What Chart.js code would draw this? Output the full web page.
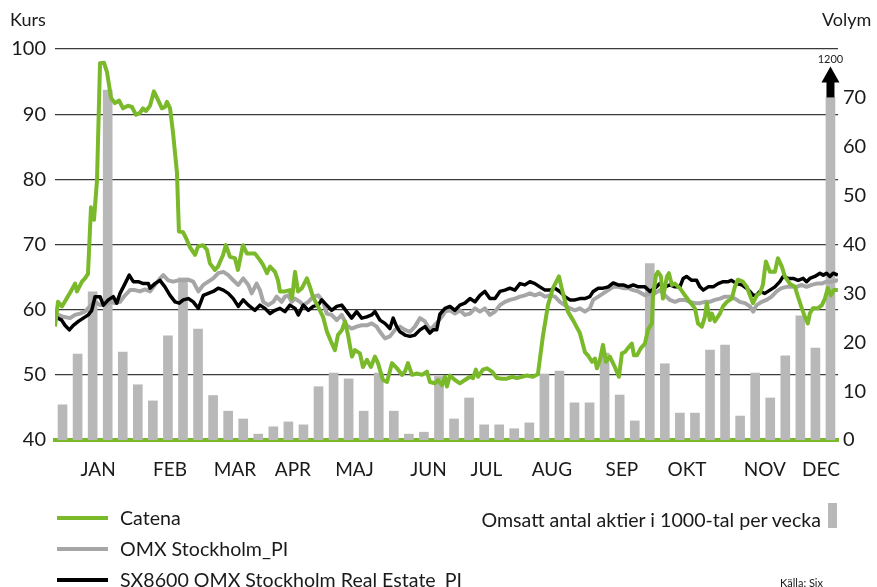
<!DOCTYPE html>
<html><head><meta charset="utf-8">
<script src="https://cdn.jsdelivr.net/npm/chart.js@4.4.1/dist/chart.umd.min.js"></script>
<style>
html,body{margin:0;padding:0;background:#fff;overflow:hidden;}
#wrap{position:relative;width:877px;height:587px;font-family:Lato,"Open Sans",sans-serif;color:#1a1a1a;}
canvas{position:absolute;left:0;top:0;}
.t{position:absolute;white-space:nowrap;font-size:19.6px;line-height:22px;}
.ln{position:absolute;height:4px;width:51px;left:57px;}
</style></head>
<body><div id="wrap">
<canvas id="c" width="877" height="587"></canvas>
<div class="t" style="left:10px;top:8px;font-size:18px;">Kurs</div>
<div class="t" style="left:822px;top:8px;font-size:18px;">Volym</div>
<div class="ln" style="top:516px;background:#7ab929;"></div>
<div class="t" style="left:120px;top:507px;">Catena</div>
<div class="ln" style="top:547px;background:#a6a6a6;"></div>
<div class="t" style="left:120px;top:538px;">OMX Stockholm_PI</div>
<div class="ln" style="top:578px;background:#000;"></div>
<div class="t" style="left:120px;top:569px;">SX8600 OMX Stockholm Real Estate_PI</div>
<div class="t" style="right:56px;top:509px;">Omsatt antal aktier i 1000-tal per vecka</div>
<div style="position:absolute;left:828px;top:503px;width:9px;height:25px;background:#b8b8b8;"></div>
<div class="t" style="left:780px;top:576px;font-size:11px;line-height:13px;">Källa: Six</div>
</div>
<script>
// x-values are in weeks (0 = start of year, 52 = end)
const monthLabels = ['JAN','FEB','MAR','APR','MAJ','JUN','JUL','AUG','SEP','OKT','NOV','DEC'];
const monthPos = [2.86,7.64,11.95,15.80,19.89,24.80,28.65,33.00,37.65,41.97,47.14,50.87];

// Weekly traded volume, thousands of shares (last week: 1200, off the scale)
const volym = [7.2,17.6,30.3,71.6,18.0,11.3,8.0,21.3,33.2,22.7,9.1,5.9,4.3,1.2,2.7,3.7,3.1,10.9,13.7,12.5,
  5.9,13.7,5.9,1.2,1.6,13.0,4.3,8.6,3.1,3.1,2.3,3.5,13.5,14.1,7.6,7.6,17.8,9.2,3.9,36.1,15.6,5.5,5.5,18.4,
  19.4,4.9,13.7,8.6,17.2,25.4,18.8,1200];
const volymAxisMax = 80;
const volymCap = 70.1;   // drawn height of off-scale bars

const catena = [[0,57.4],[0.20,61.2],[0.46,60.5],[1.00,62.6],[1.33,64.0],[1.46,62.8],[1.79,64.3],[1.99,64.8],
 [2.19,65.5],[2.39,75.7],[2.59,73.8],[2.79,79.9],[2.99,97.8],[3.25,97.9],[3.45,96.5],[3.72,92.5],[3.98,91.7],
 [4.25,92.1],[4.52,90.9],[4.85,91.3],[5.11,91.1],[5.38,89.9],[5.64,90.2],[5.84,90.9],[6.04,90.5],[6.31,91.3],
 [6.57,93.5],[6.84,92.2],[7.10,90.9],[7.30,91.1],[7.44,91.9],[7.64,90.9],[7.84,87.1],[8.10,81.0],[8.23,72.0],
 [8.50,71.9],[8.70,71.0],[8.96,69.6],[9.30,68.4],[9.50,69.7],[9.83,69.9],[10.09,69.2],[10.29,67.1],[10.62,66.1],
 [10.82,66.6],[11.16,68.4],[11.35,69.9],[11.62,68.1],[11.95,67.9],[12.15,66.1],[12.48,69.9],[12.75,68.6],
 [13.28,68.6],[13.61,67.6],[13.81,66.9],[14.08,65.6],[14.28,66.6],[14.61,65.8],[14.81,64.5],[14.94,62.8],
 [15.27,62.8],[15.60,63.0],[15.74,61.7],[15.94,65.8],[16.14,62.8],[16.40,63.3],[16.73,64.8],[16.93,63.5],
 [17.13,62.0],[17.46,60.5],[17.80,58.9],[18.06,56.6],[18.33,55.1],[18.59,53.8],[18.79,56.1],[19.06,56.9],
 [19.26,58.2],[19.46,56.1],[19.72,52.8],[19.92,53.8],[20.25,53.3],[20.45,51.2],[20.72,52.3],[20.98,51.2],
 [21.25,52.8],[21.45,51.8],[21.78,49.2],[22.05,48.9],[22.38,51.8],[22.71,51.0],[23.04,50.0],[23.24,50.5],
 [23.44,51.8],[23.71,50.0],[24.04,50.2],[24.37,50.0],[24.70,50.5],[24.90,48.9],[25.23,48.7],[25.43,49.2],
 [25.70,48.4],[25.90,49.7],[26.03,48.2],[26.23,49.9],[26.56,49.2],[26.89,48.7],[27.22,49.2],[27.56,49.7],
 [27.76,49.5],[27.95,50.8],[28.09,49.7],[28.42,50.8],[28.69,51.0],[29.02,50.5],[29.35,49.5],[29.68,49.4],
 [30.01,49.4],[30.35,49.7],[30.68,49.5],[31.01,49.7],[31.34,49.9],[31.74,49.7],[32.07,50.1],[32.40,55.9],
 [32.74,60.7],[33.07,63.3],[33.47,65.1],[33.73,62.5],[34.06,59.7],[34.40,58.4],[34.86,56.4],[35.19,53.5],
 [35.39,53.0],[35.66,52.0],[35.86,52.5],[35.99,51.0],[36.19,52.3],[36.39,54.6],[36.59,52.0],[36.85,52.8],
 [37.18,51.2],[37.45,49.7],[37.65,53.3],[37.85,53.5],[38.05,54.1],[38.31,54.8],[38.45,53.0],[38.65,53.0],
 [38.91,54.1],[39.18,54.8],[39.38,56.9],[39.64,57.9],[39.71,62.0],[39.91,65.3],[40.04,65.8],[40.24,65.1],
 [40.37,61.7],[40.64,65.1],[40.77,65.6],[40.97,63.8],[41.17,64.0],[41.50,63.3],[41.83,62.2],[42.16,61.2],
 [42.50,60.2],[42.70,57.9],[42.96,57.4],[43.16,58.9],[43.29,61.0],[43.49,58.4],[43.63,59.4],[43.82,58.2],
 [44.16,59.4],[44.36,60.5],[44.62,61.2],[44.95,61.7],[45.15,63.5],[45.35,64.6],[45.68,64.3],[45.95,63.5],
 [46.15,62.2],[46.35,61.0],[46.61,62.2],[46.81,62.5],[47.01,63.8],[47.21,67.4],[47.48,65.8],[47.81,65.8],
 [48.01,67.9],[48.27,66.6],[48.47,65.1],[48.80,64.0],[49.14,63.5],[49.34,62.0],[49.60,60.2],[49.80,58.9],
 [50.00,57.9],[50.13,59.4],[50.33,60.2],[50.66,60.2],[50.93,60.7],[51.13,61.7],[51.33,63.3],[51.53,62.2],
 [51.73,63.0],[51.99,63.0]];

const omx = [[0,59.4],[0.55,58.9],[1.00,58.7],[1.33,59.2],[1.66,59.4],[1.99,59.7],[2.32,60.5],[2.66,61.2],
 [2.99,60.7],[3.32,60.7],[3.65,61.2],[3.98,61.0],[4.32,61.2],[4.65,62.2],[4.98,63.0],[5.31,63.0],[5.64,62.8],
 [5.98,63.1],[6.31,62.8],[6.64,63.8],[6.97,64.8],[7.19,65.3],[7.52,64.5],[7.86,64.3],[8.19,64.5],[8.52,64.5],
 [8.85,64.6],[9.18,64.3],[9.52,62.8],[9.85,63.8],[10.18,64.3],[10.51,64.8],[10.84,65.6],[11.18,65.8],
 [11.51,65.3],[11.84,64.5],[12.17,63.8],[12.50,64.8],[12.84,63.8],[13.06,62.5],[13.39,64.0],[13.61,63.0],
 [13.83,61.2],[14.16,60.7],[14.50,61.2],[14.72,62.0],[15.05,61.2],[15.27,62.0],[15.49,62.2],[15.72,61.2],
 [15.94,61.7],[16.27,61.2],[16.49,60.7],[16.82,61.2],[17.15,62.0],[17.48,62.2],[17.82,61.2],[18.04,59.4],
 [18.37,59.2],[18.71,58.4],[19.04,59.2],[19.37,57.6],[19.70,57.1],[20.03,57.4],[20.37,57.6],[20.70,57.6],
 [21.03,57.9],[21.36,57.4],[21.58,56.6],[21.91,55.6],[22.24,55.9],[22.58,56.9],[22.91,57.4],[23.24,56.9],
 [23.57,56.6],[23.90,57.4],[24.24,58.7],[24.57,58.2],[24.90,56.9],[25.12,57.4],[25.45,58.2],[25.78,59.2],
 [25.90,59.7],[26.23,59.9],[26.56,59.4],[26.89,59.9],[27.22,59.2],[27.56,59.4],[27.89,60.2],[28.22,59.7],
 [28.55,60.2],[28.88,59.2],[29.22,59.7],[29.55,60.7],[29.88,61.2],[30.21,61.5],[30.54,61.7],[30.88,62.0],
 [31.21,62.2],[31.54,62.5],[31.87,62.2],[32.20,62.5],[32.54,62.0],[32.87,62.2],[33.20,62.0],[33.53,61.2],
 [33.86,60.7],[34.20,60.2],[34.53,59.9],[34.86,60.2],[35.19,59.7],[35.52,60.2],[35.74,61.5],[36.08,62.0],
 [36.41,62.5],[36.74,63.0],[37.07,63.5],[37.40,63.5],[37.74,63.3],[38.07,63.3],[38.40,63.0],[38.73,62.8],
 [39.18,62.2],[39.51,62.5],[39.84,62.5],[40.17,63.0],[40.50,62.2],[40.84,61.5],[41.17,61.2],[41.50,61.5],
 [41.83,61.5],[42.16,61.2],[42.50,61.0],[42.83,61.0],[43.16,61.2],[43.49,61.2],[43.82,61.5],[44.16,61.7],
 [44.49,62.0],[44.82,62.0],[45.15,61.7],[45.48,61.2],[45.82,61.0],[46.15,60.5],[46.37,59.7],[46.59,60.7],
 [46.93,61.2],[47.26,61.5],[47.59,62.0],[47.92,62.8],[48.25,63.3],[48.59,63.5],[48.92,63.5],[49.25,63.5],
 [49.58,63.8],[49.91,63.5],[50.25,63.8],[50.58,64.0],[50.91,64.0],[51.24,64.3],[51.57,64.3],[51.91,64.5],
 [51.99,64.3]];

const sx8600 = [[0,58.8],[0.11,58.8],[0.44,58.4],[0.66,57.6],[0.95,56.9],[1.22,57.6],[1.55,58.2],[1.88,58.7],
 [2.21,59.2],[2.44,59.9],[2.66,62.0],[2.99,62.0],[3.21,60.7],[3.54,61.5],[3.87,62.0],[4.10,61.0],[4.32,62.5],
 [4.65,64.0],[4.93,65.3],[5.20,64.3],[5.53,64.3],[5.86,64.0],[6.20,64.0],[6.31,63.3],[6.64,64.0],[6.97,64.5],
 [7.30,63.5],[7.64,62.2],[7.97,61.2],[8.25,61.0],[8.52,61.5],[8.85,61.7],[9.18,61.2],[9.52,60.2],[9.85,62.2],
 [10.18,62.5],[10.51,62.8],[10.84,63.3],[11.18,63.0],[11.51,62.5],[11.84,61.7],[12.17,60.5],[12.50,61.5],
 [12.84,60.7],[13.28,59.9],[13.61,60.7],[13.94,60.2],[14.28,59.4],[14.61,59.9],[14.94,60.2],[15.27,59.7],
 [15.60,60.7],[15.94,60.2],[16.16,59.2],[16.49,60.7],[16.82,59.9],[17.15,60.5],[17.48,60.7],[17.71,61.5],
 [18.04,60.7],[18.37,59.9],[18.71,60.5],[19.04,60.7],[19.37,59.7],[19.70,58.7],[20.03,59.7],[20.37,58.7],
 [20.70,58.9],[21.03,59.2],[21.25,59.7],[21.58,58.4],[21.91,57.9],[22.24,57.1],[22.46,58.7],[22.69,57.4],
 [22.91,56.6],[23.24,56.1],[23.57,55.9],[23.90,56.1],[24.24,56.9],[24.57,57.4],[24.90,56.4],[25.12,56.9],
 [25.35,56.9],[25.56,59.3],[25.90,60.2],[26.23,60.5],[26.56,59.9],[26.89,60.7],[27.22,61.0],[27.56,61.7],
 [27.89,61.2],[28.22,62.2],[28.55,62.8],[28.88,61.7],[29.22,61.7],[29.55,62.8],[29.88,63.0],[30.21,63.3],
 [30.54,63.0],[30.88,64.0],[31.21,63.8],[31.54,64.3],[31.87,64.0],[32.20,63.5],[32.54,63.0],[32.87,63.0],
 [33.20,63.3],[33.53,62.8],[33.86,62.0],[34.20,61.5],[34.53,61.5],[34.86,61.7],[35.19,61.7],[35.52,62.0],
 [35.74,62.8],[36.08,63.3],[36.41,63.3],[36.74,63.5],[37.07,64.1],[37.40,63.8],[37.74,63.8],[38.07,63.5],
 [38.40,63.8],[38.73,63.5],[39.18,63.5],[39.51,62.8],[39.84,63.3],[40.17,64.0],[40.50,63.5],[40.84,63.8],
 [41.17,63.5],[41.50,63.5],[41.72,64.8],[41.94,65.1],[42.28,64.5],[42.61,64.5],[42.83,63.5],[43.05,63.0],
 [43.38,63.5],[43.71,63.5],[44.04,64.0],[44.38,64.3],[44.71,64.3],[44.93,64.5],[45.26,64.0],[45.60,63.8],
 [45.93,63.3],[46.15,62.8],[46.37,62.2],[46.59,62.2],[46.81,62.8],[47.14,62.5],[47.48,63.0],[47.81,63.5],
 [48.14,64.3],[48.36,65.1],[48.69,64.8],[49.02,64.8],[49.36,64.5],[49.69,64.8],[49.91,64.3],[50.13,64.8],
 [50.46,65.1],[50.80,65.6],[51.02,65.3],[51.24,65.6],[51.46,65.1],[51.68,65.6],[51.99,65.3]];

const pts = a => a.map(([x, y]) => ({x, y}));
const offScale = v => v > volymAxisMax;

const arrowPlugin = {
  id: 'arrow',
  afterDatasetsDraw(chart) {
    const meta = chart.getDatasetMeta(3);
    const c = chart.ctx;
    volym.forEach((v, i) => {
      if (!offScale(v)) return;
      const el = meta.data[i];
      const x = el.x, top = el.y;
      c.save();
      c.fillStyle = '#000';
      c.fillRect(x - 4, top - 16, 8, 16);
      c.beginPath();
      c.moveTo(x - 9, top - 15); c.lineTo(x + 9, top - 15); c.lineTo(x, top - 31); c.closePath(); c.fill();
      c.font = '11px Lato, sans-serif';
      c.textAlign = 'center'; c.textBaseline = 'middle';
      c.fillStyle = '#222';
      c.fillText(String(v), x, top - 38);
      c.restore();
    });
  }
};

new Chart(document.getElementById('c'), {
  type: 'line',
  data: {
    datasets: [
      {type:'line', label:'Catena', data: pts(catena), borderColor:'#7ab929', borderWidth:4, pointRadius:0, tension:0, yAxisID:'y', order:0, borderJoinStyle:'round'},
      {type:'line', label:'SX8600 OMX Stockholm Real Estate_PI', data: pts(sx8600), borderColor:'#000', borderWidth:3.5, pointRadius:0, tension:0, yAxisID:'y', order:1, borderJoinStyle:'round'},
      {type:'line', label:'OMX Stockholm_PI', data: pts(omx), borderColor:'#a6a6a6', borderWidth:4, pointRadius:0, tension:0, yAxisID:'y', order:2, borderJoinStyle:'round'},
      {type:'bar', label:'Omsatt antal aktier i 1000-tal per vecka', data: volym.map((v, i) => ({x: i + 0.5, y: offScale(v) ? volymCap : v})), backgroundColor:'#b8b8b8', barThickness:9, yAxisID:'y2', order:3}
    ]
  },
  options: {
    responsive:false, animation:false,
    layout:{padding:{top:49,left:0,right:0,bottom:0}},
    plugins:{legend:{display:false}, tooltip:{enabled:false}},
    scales:{
      x:{type:'linear', min:0, max:52, offset:false,
         grid:{display:false, drawTicks:false},
         border:{display:true, color:'#7ab929', width:4},
         afterBuildTicks: s => { s.ticks = monthPos.map(v => ({value:v})); },
         ticks:{autoSkip:false, maxRotation:0, padding:18, color:'#1a1a1a', font:{family:'Lato', size:19},
                callback: (v, i) => monthLabels[i]},
         afterFit: s => { s.height = 147; }},
      y:{position:'left', min:40, max:100,
         grid:{color:'#3a3a3a', lineWidth:1.2, drawTicks:false},
         border:{display:false},
         ticks:{stepSize:10, padding:9, color:'#1a1a1a', font:{family:'Lato', size:20}},
         afterFit: s => { s.width = 55; }},
      y2:{position:'right', min:0, max:volymAxisMax,
         grid:{display:false, drawTicks:false},
         border:{display:false},
         ticks:{stepSize:10, padding:5, color:'#1a1a1a', font:{family:'Lato', size:20}, callback: v => v === volymAxisMax ? '' : v},
         afterFit: s => { s.width = 39; }}
    }
  },
  plugins:[arrowPlugin]
});
</script>
</body></html>
